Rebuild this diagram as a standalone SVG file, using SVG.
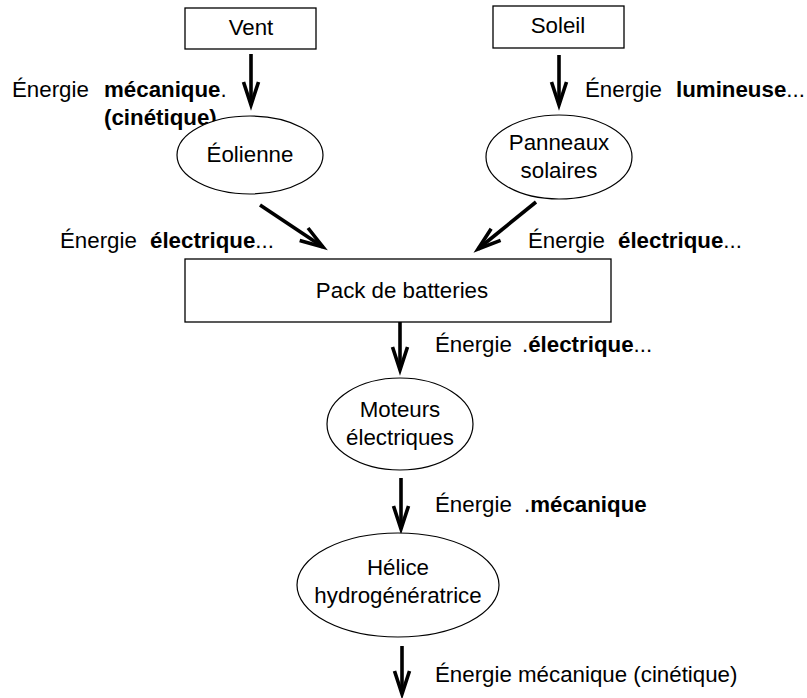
<svg xmlns="http://www.w3.org/2000/svg" width="807" height="698" viewBox="0 0 807 698">
<defs>
<style>
.box{fill:#fff;stroke:#000;stroke-width:1.3}
.ell{fill:#fff;stroke:#000;stroke-width:1.2}
text{font-family:"Liberation Sans",Arial,sans-serif;font-size:22.3px;fill:#000}
.c{text-anchor:middle}
.b{font-weight:bold}
.arr{stroke:#000;stroke-width:3.6;fill:none;marker-end:url(#ah)}
</style>
<marker id="ah" markerUnits="userSpaceOnUse" markerWidth="40" markerHeight="40" refX="0" refY="0" viewBox="-30 -15 40 30" orient="auto" overflow="visible">
<path d="M-23,-7.5 L0,0 L-23,7.5" fill="none" stroke="#000" stroke-width="3.6" stroke-linejoin="miter" stroke-linecap="butt"/>
</marker>
</defs>
<rect width="807" height="698" fill="#fff"/>

<g id="connectors">
<line class="arr" x1="251" y1="54" x2="251" y2="105"/>
<line class="arr" x1="559" y1="55" x2="559" y2="105"/>
<line class="arr" x1="260" y1="205" x2="323" y2="247"/>
<line class="arr" x1="536" y1="202" x2="478" y2="249"/>
<line class="arr" x1="400" y1="320" x2="400" y2="370"/>
<line class="arr" x1="401" y1="478" x2="401" y2="529"/>
<line class="arr" x1="402" y1="646" x2="402" y2="694"/>
</g>

<g id="labels">
<text x="12" y="97">Énergie</text>
<text x="104" y="97" class="b">mécanique<tspan font-weight="normal">.</tspan></text>
<text x="104" y="125" class="b">(cinétique)</text>
<text x="585" y="97">Énergie</text>
<text x="676" y="97" class="b">lumineuse<tspan font-weight="normal">...</tspan></text>
<text x="60" y="248">Énergie</text>
<text x="150" y="248" class="b">électrique<tspan font-weight="normal">...</tspan></text>
<text x="528" y="248">Énergie</text>
<text x="618" y="248" class="b">électrique<tspan font-weight="normal">...</tspan></text>
<text x="435" y="352">Énergie</text>
<text x="522" y="352"><tspan>.</tspan><tspan font-weight="bold">électrique</tspan>...</text>
<text x="435" y="512">Énergie</text>
<text x="524" y="512"><tspan>.</tspan><tspan font-weight="bold">mécanique</tspan></text>
<text x="435" y="682">Énergie mécanique (cinétique)</text>
</g>

<g id="vent">
<rect class="box" x="185" y="8" width="131" height="41"/>
<text class="c" x="251" y="35">Vent</text>
</g>
<g id="soleil">
<rect class="box" x="493" y="6" width="131" height="42"/>
<text class="c" x="558" y="33">Soleil</text>
</g>
<g id="eolienne">
<ellipse class="ell" cx="250" cy="155" rx="73" ry="39"/>
<text class="c" x="250" y="162">Éolienne</text>
</g>
<g id="panneaux">
<ellipse class="ell" cx="559" cy="157" rx="73" ry="42"/>
<text class="c" x="559" y="150">Panneaux</text>
<text class="c" x="559" y="178">solaires</text>
</g>
<g id="pack">
<rect class="box" x="185" y="259" width="426" height="63"/>
<text class="c" x="402" y="298">Pack de batteries</text>
</g>
<g id="moteurs">
<ellipse class="ell" cx="400" cy="424" rx="73" ry="46"/>
<text class="c" x="400" y="417">Moteurs</text>
<text class="c" x="400" y="445">électriques</text>
</g>
<g id="helice">
<ellipse class="ell" cx="398" cy="585" rx="101" ry="52"/>
<text class="c" x="398" y="575">Hélice</text>
<text class="c" x="398" y="603">hydrogénératrice</text>
</g>
</svg>
